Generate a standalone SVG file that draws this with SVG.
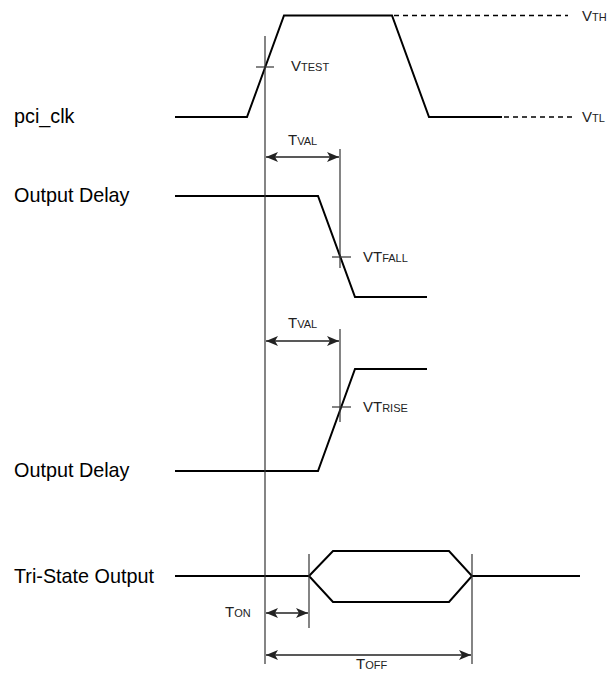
<svg xmlns="http://www.w3.org/2000/svg" width="610" height="675" viewBox="0 0 610 675">
<style>
.sig{fill:none;stroke:#000;stroke-width:2;stroke-linejoin:miter}
.dash{fill:none;stroke:#000;stroke-width:1.6;stroke-dasharray:5,4}
.ref{fill:none;stroke:#333;stroke-width:1.2}
.arr{fill:none;stroke:#222;stroke-width:1.6;marker-start:url(#ah);marker-end:url(#ah)}
.lbl{font-family:"Liberation Sans",Arial,sans-serif;font-size:19.8px;fill:#000}
.sm{font-family:"Liberation Sans",Arial,sans-serif;font-size:15px;fill:#222}
.sub{font-size:11px}
</style>
<defs>
<marker id="ah" viewBox="0 0 12 10" refX="12" refY="5" markerWidth="12" markerHeight="10" markerUnits="userSpaceOnUse" orient="auto-start-reverse">
<path d="M0,0 L12,5 L0,10 L3,5 Z" fill="#222"/>
</marker>
</defs>
<g id="labels">
<text class="lbl" x="14" y="123">pci_clk</text>
<text class="lbl" x="14" y="202">Output Delay</text>
<text class="lbl" x="14" y="477">Output Delay</text>
<text class="lbl" x="14" y="583">Tri-State Output</text>
</g>
<g id="pci_clk">
<polyline class="sig" points="175,117 247,117 284,15.5 392,15.5 429,117 502,117"/>
<line class="dash" x1="394" y1="15.5" x2="568" y2="15.5"/>
<line class="dash" x1="504" y1="117" x2="573" y2="117"/>
<text class="sm" x="582" y="21">V<tspan class="sub">TH</tspan></text>
<text class="sm" x="582" y="122">V<tspan class="sub">TL</tspan></text>
<line class="ref" x1="256" y1="67" x2="274" y2="67"/>
<text class="sm" x="291" y="71">V<tspan class="sub">TEST</tspan></text>
</g>
<g id="output_delay_fall">
<polyline class="sig" points="175,196 318,196 355,297 427,297"/>
<line class="ref" x1="332" y1="257" x2="351" y2="257"/>
<text class="sm" x="363" y="262">VT<tspan class="sub">FALL</tspan></text>
</g>
<g id="output_delay_rise">
<polyline class="sig" points="175,471 318,471 355,369 427,369"/>
<line class="ref" x1="332" y1="407" x2="351" y2="407"/>
<text class="sm" x="363" y="412">VT<tspan class="sub">RISE</tspan></text>
</g>
<g id="tri_state">
<polyline class="sig" points="175,576 309,576"/>
<polygon class="sig" points="309,576 333,551 449,551 472,576 449,602 333,602"/>
<polyline class="sig" points="472,576 580,576"/>
</g>
<g id="connectors">
<line class="ref" x1="265" y1="36" x2="265" y2="664"/>
<line class="ref" x1="340" y1="149" x2="340" y2="268"/>
<line class="ref" x1="340" y1="329" x2="340" y2="422"/>
<line class="ref" x1="309" y1="554" x2="309" y2="628"/>
<line class="ref" x1="472" y1="554" x2="472" y2="664"/>
<line class="arr" x1="266" y1="157" x2="339" y2="157"/>
<line class="arr" x1="266" y1="341" x2="339" y2="341"/>
<line class="arr" x1="266" y1="613" x2="308" y2="613"/>
<line class="arr" x1="266" y1="655" x2="471" y2="655"/>
</g>
<g id="timing_labels">
<text class="sm" x="288" y="145">T<tspan class="sub">VAL</tspan></text>
<text class="sm" x="288" y="328">T<tspan class="sub">VAL</tspan></text>
<text class="sm" x="225" y="617">T<tspan class="sub">ON</tspan></text>
<text class="sm" x="356" y="669">T<tspan class="sub">OFF</tspan></text>
</g>
</svg>
